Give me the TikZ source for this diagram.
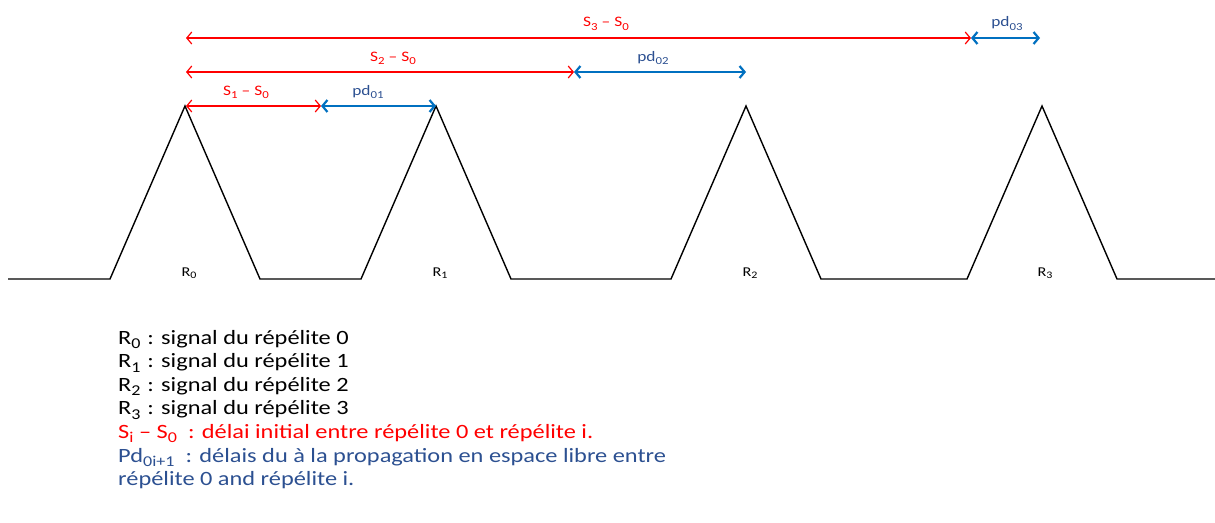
\documentclass[tikz,border=0pt]{standalone}
\usepackage{fontspec}
\usepackage{graphicx}
\setmainfont{Carlito}[FakeStretch=1.2]
\usetikzlibrary{arrows.meta}

% subscript as the reference prints it
\newcommand{\sbs}[1]{\raisebox{-0.22em}{\scalebox{0.74}{#1}}}

\begin{document}
\begin{tikzpicture}[x=1pt, y=-1pt,
    >={Straight Barb[length=5pt,width=12pt]},
    sig/.style={black, line width=1.4pt, line join=miter},
    initdelay/.style={<->, red, line width=1.2pt},
    propdelay/.style={<->, arrowblue, line width=2.2pt},
    redlabel/.style={font=\fontsize{14.5}{17}\selectfont, red, anchor=base},
    bluelabel/.style={font=\fontsize{14.5}{17}\selectfont, textblue, anchor=base},
    peaklabel/.style={font=\fontsize{13.5}{15}\selectfont, anchor=base},
    legend/.style={font=\fontsize{20.3}{24}\selectfont, anchor=base west, inner sep=0pt}]

% --- colors ---
\definecolor{arrowblue}{RGB}{0,112,192}
\definecolor{textblue}{RGB}{44,80,145}

\useasboundingbox (0,0) rectangle (1215,522);

% --- parameters ---
\def\base{279}   % baseline of the signal
\def\top{106}    % peak height
\def\hw{75}      % half width of a peak

% --- signal of the four repeaters ---
\draw[sig] (8,\base)
    foreach \p in {185,436,746,1042} {
        -- (\p-\hw,\base) -- (\p,\top) -- (\p+\hw,\base)
    } -- (1215,\base);

% --- peak labels ---
\foreach \p/\i in {189/0,440/1,750/2,1045/3} {
    \node[peaklabel] (r\i) at (\p,276) {R\sbs{\i}};
}

% --- arrow ends ---
\coordinate (a1) at (186,106);
\coordinate (m1) at (321,106);
\coordinate (b1) at (436,106);
\coordinate (a2) at (186,72);
\coordinate (m2) at (574,72);
\coordinate (b2) at (746,72);
\coordinate (a3) at (186,38);
\coordinate (m3) at (971,38);
\coordinate (b3) at (1040,38);

% --- initial delays (red) and propagation delays (blue) ---
\foreach \i in {1,2,3} {
    \draw[initdelay] (a\i) -- (m\i);
    \draw[propdelay] (m\i) -- (b\i);
}

% --- delay labels ---
\node[redlabel] (s1) at (246,95) {S\sbs{1} -- S\sbs{0}};
\node[redlabel] (s2) at (393,61) {S\sbs{2} -- S\sbs{0}};
\node[redlabel] (s3) at (606,27) {S\sbs{3} -- S\sbs{0}};
\node[bluelabel] (pd1) at (368,95) {pd\sbs{01}};
\node[bluelabel] (pd2) at (653,61) {pd\sbs{02}};
\node[bluelabel] (pd3) at (1007,27) {pd\sbs{03}};

% --- legend ---
\foreach \i in {0,...,3} {
    \node[legend] (leg\i) at (118,344+23.6*\i)
        {R\sbs{\i}\,\,: signal du répélite \i};
}
\node[legend, red] (leg4) at (118,438.4)
    {S\sbs{i} -- S\sbs{0}\ \ : délai initial entre répélite 0 et répélite i.};
\node[legend, textblue] (leg5) at (118,462)
    {Pd\sbs{0i+1}\ \ : délais du à la propagation en espace libre entre};
\node[legend, textblue] (leg6) at (118,485.6)
    {répélite 0 and répélite i.};

\end{tikzpicture}
\end{document}
